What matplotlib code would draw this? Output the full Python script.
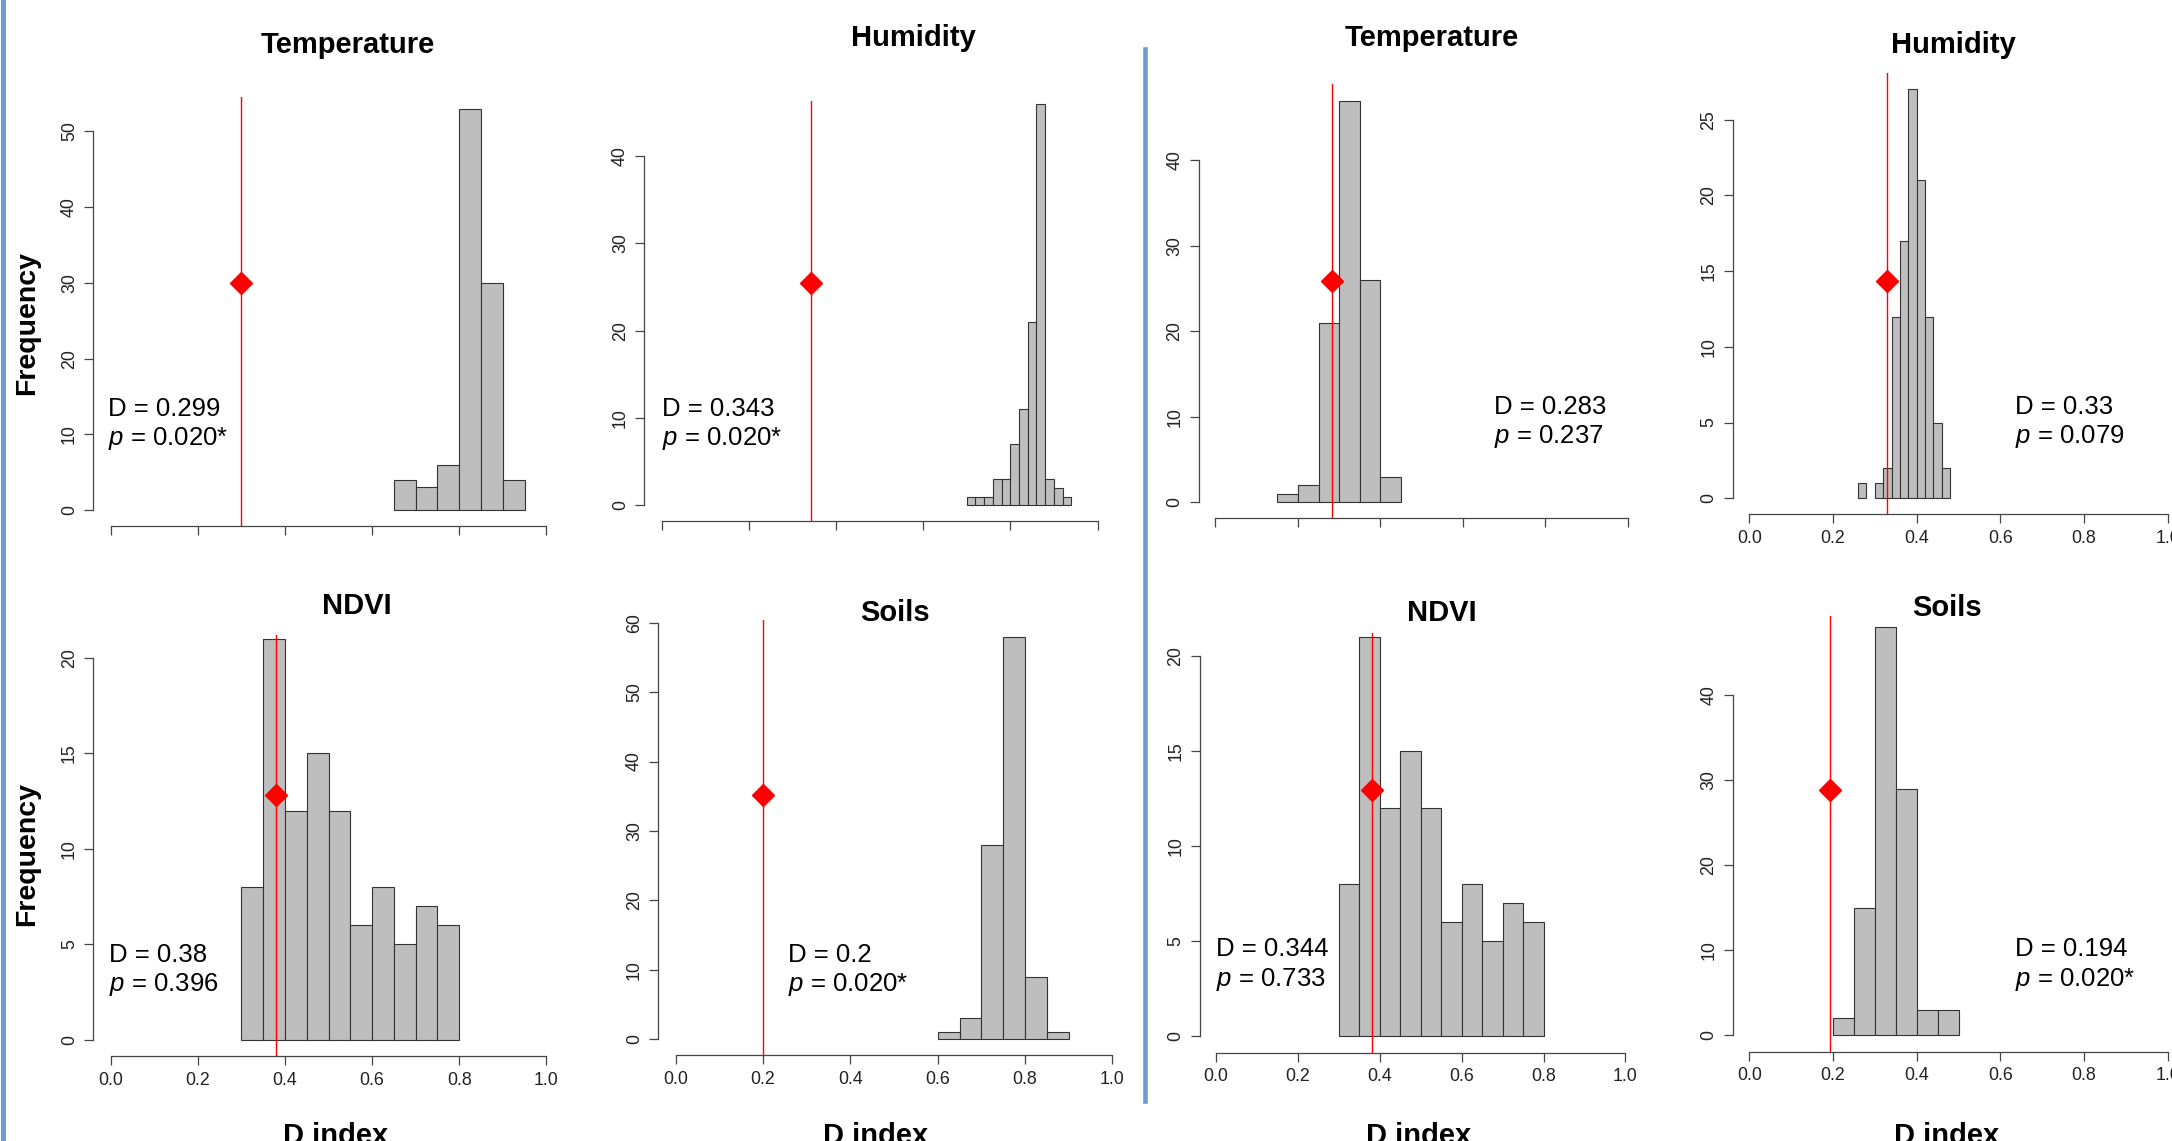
import numpy as np
import matplotlib
matplotlib.use("Agg")
import matplotlib.pyplot as plt
from matplotlib.lines import Line2D

plt.rcParams['font.family'] = ['Liberation Sans', 'DejaVu Sans']
plt.rcParams['mathtext.fontset'] = 'custom'
plt.rcParams['mathtext.rm'] = 'Liberation Sans'
plt.rcParams['mathtext.it'] = 'Liberation Sans:italic'

# ---- data ----
titles = ["Temperature", "Humidity", "Temperature", "Humidity",
          "NDVI", "Soils", "NDVI", "Soils"]

temp_a_edges = [0.65, 0.70, 0.75, 0.80, 0.85, 0.90, 0.95]
temp_a_counts = [4, 3, 6, 53, 30, 4]
hum_a_edges = [0.70, 0.72, 0.74, 0.76, 0.78, 0.80, 0.82, 0.84, 0.86, 0.88, 0.90, 0.92, 0.94]
hum_a_counts = [1, 1, 1, 3, 3, 7, 11, 21, 46, 3, 2, 1]
temp_b_edges = [0.15, 0.20, 0.25, 0.30, 0.35, 0.40, 0.45]
temp_b_counts = [1, 2, 21, 47, 26, 3]
hum_b_edges = [0.26, 0.28, 0.30, 0.32, 0.34, 0.36, 0.38, 0.40, 0.42, 0.44, 0.46, 0.48]
hum_b_counts = [1, 0, 1, 2, 12, 17, 27, 21, 12, 5, 2]
ndvi_edges = [0.30, 0.35, 0.40, 0.45, 0.50, 0.55, 0.60, 0.65, 0.70, 0.75, 0.80]
ndvi_a_counts = [8, 21, 12, 15, 12, 6, 8, 5, 7, 6]
ndvi_b_counts = [8, 21, 12, 15, 12, 6, 8, 5, 7, 6]
soil_a_edges = [0.60, 0.65, 0.70, 0.75, 0.80, 0.85, 0.90]
soil_a_counts = [1, 3, 28, 58, 9, 1]
soil_b_edges = [0.20, 0.25, 0.30, 0.35, 0.40, 0.45, 0.50]
soil_b_counts = [2, 15, 48, 29, 3, 3]

hist_edges = [temp_a_edges, hum_a_edges, temp_b_edges, hum_b_edges,
              ndvi_edges, soil_a_edges, ndvi_edges, soil_b_edges]
hist_counts = [temp_a_counts, hum_a_counts, temp_b_counts, hum_b_counts,
               ndvi_a_counts, soil_a_counts, ndvi_b_counts, soil_b_counts]

d_text = ["0.299", "0.343", "0.283", "0.33", "0.38", "0.2", "0.344", "0.194"]
p_text = ["0.020*", "0.020*", "0.237", "0.079", "0.396", "0.020*", "0.733", "0.020*"]
obs_line = [0.299, 0.343, 0.283, 0.33, 0.38, 0.2, 0.38, 0.194]
obs_point = [30.0, 25.5, 25.9, 14.35, 12.83, 35.2, 12.93, 28.8]
y_tick_max = [50, 40, 40, 25, 20, 60, 20, 40]
y_tick_step = [10, 10, 10, 5, 5, 10, 5, 10]
x_ticks = [0.0, 0.2, 0.4, 0.6, 0.8, 1.0]
x_tick_labels = ["0.0", "0.2", "0.4", "0.6", "0.8", "1.0"]
show_x_labels = [False, False, False, True, True, True, True, True]

# ---- layout in pixels of the 2172x1141 image ----
W, H = 2172, 1141
# x of D=0, x of D=1, y of count 0, px per count, x-axis line y, top of plot
frames = [
    (110.7, 546.4, 510.0, 7.571, 525.7, 97.1),
    (661.7, 1097.5, 505.4, 8.733, 521.4, 100.7),
    (1215.4, 1627.9, 502.5, 8.553, 517.9, 83.9),
    (1749.3, 2167.7, 498.2, 15.14, 514.3, 73.2),
    (110.7, 546.4, 1040.1, 19.12, 1056.2, 634.8),
    (675.8, 1112.3, 1039.0, 6.937, 1055.1, 620.3),
    (1216.1, 1625.4, 1036.1, 19.01, 1052.5, 632.6),
    (1749.3, 2167.7, 1035.0, 8.493, 1051.8, 615.5),
]
title_pos = [(348, 44.6), (913, 37.5), (1432, 37.5), (1953, 44.6),
             (357, 606.4), (895, 613.0), (1442, 613.0), (1947, 608.2)]
stat_pos = [(108, 408.9), (662, 408.9), (1494, 407.1), (2015, 407.0),
            (109, 955.3), (788, 955.3), (1216, 949.5), (2015, 949.5)]
line_gap = 29.7
xlabel_x = [336, 876, 1419, 1947]

AXIS_COL = '#444444'
BLUE = '#6b9bd2'


def fx(x):
    return x / W


def fy(y):
    return 1 - y / H


fig = plt.figure(figsize=(W / 100, H / 100), dpi=100)

for i in range(8):
    x0, x1, y0, unit, xaxis_y, top = frames[i]
    span = x1 - x0
    left = x0 - 0.04 * span
    right = x1 + 0.04 * span
    ax = fig.add_axes([fx(left), fy(xaxis_y), (right - left) / W, (xaxis_y - top) / H])
    ax.set_xlim(-0.04, 1.04)
    ax.set_ylim(-(xaxis_y - y0) / unit, (y0 - top) / unit)
    ax.patch.set_alpha(0)

    edges = np.array(hist_edges[i])
    counts = np.array(hist_counts[i])
    lw = np.where(counts > 0, 0.8, 0.0)
    ax.bar(edges[:-1], counts, width=np.diff(edges), align='edge',
           color='#bebebe', edgecolor='#333333', linewidth=lw, zorder=2)

    ax.axvline(obs_line[i], color='red', lw=1.0, zorder=3)
    ax.plot([obs_line[i]], [obs_point[i]], marker='D', color='red', ms=11,
            mec='red', zorder=4, clip_on=False)

    for s in ['top', 'right']:
        ax.spines[s].set_visible(False)
    for s in ['left', 'bottom']:
        ax.spines[s].set_color(AXIS_COL)
        ax.spines[s].set_linewidth(0.9)
    ax.spines['bottom'].set_bounds(0, 1)
    ax.spines['left'].set_bounds(0, y_tick_max[i])

    yt = list(range(0, y_tick_max[i] + 1, y_tick_step[i]))
    ax.set_yticks(yt)
    ax.set_yticklabels([str(v) for v in yt], rotation=90, va='center')
    ax.set_xticks(x_ticks)
    if show_x_labels[i]:
        ax.set_xticklabels(x_tick_labels)
    else:
        ax.set_xticklabels([])
    ax.tick_params(axis='both', length=6.5, width=0.9, color=AXIS_COL,
                   labelsize=12.8, labelcolor='#222222')
    ax.tick_params(axis='x', pad=4.7)
    ax.tick_params(axis='y', pad=4.5)

    tx, ty = title_pos[i]
    fig.text(fx(tx), fy(ty), titles[i], ha='center', va='center',
             fontsize=21, fontweight='bold')
    sx, sy = stat_pos[i]
    fig.text(fx(sx), fy(sy), "D = " + d_text[i], ha='left', va='center', fontsize=18.5)
    fig.text(fx(sx), fy(sy + line_gap), "$p$ = " + p_text[i], ha='left', va='center',
             fontsize=18.5)

# shared axis titles
for yc in [323, 854]:
    fig.text(fx(27.5), fy(yc), "Frequency", rotation=90, ha='center', va='center',
             fontsize=20.5, fontweight='bold')
for xc in xlabel_x:
    fig.text(fx(xc), fy(1122), "D index", ha='center', va='top',
             fontsize=21, fontweight='bold')

# blue separators
fig.add_artist(Line2D([fx(2.5), fx(2.5)], [fy(0), fy(H)], color=BLUE, lw=3.6,
                      transform=fig.transFigure))
fig.add_artist(Line2D([fx(1144.8), fx(1144.8)], [fy(49), fy(1101)], color=BLUE, lw=3.3,
                      transform=fig.transFigure))

fig.savefig("out.png", dpi=100)
